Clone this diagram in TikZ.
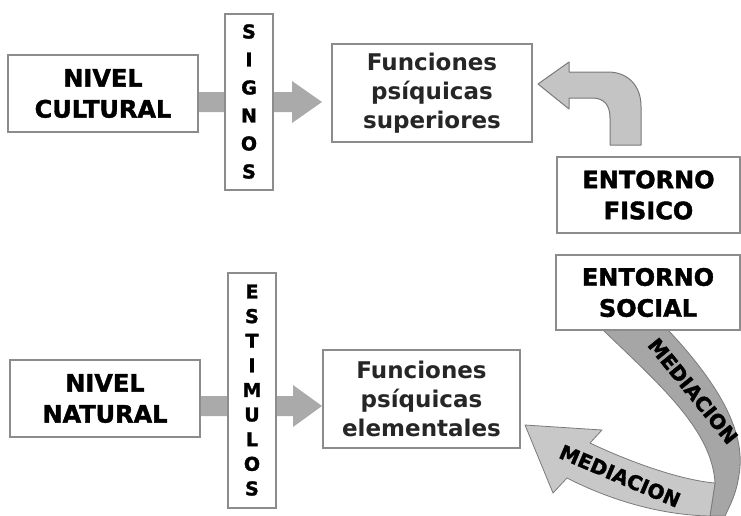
\documentclass[tikz,border=0pt]{standalone}
\usepackage{fontspec}
\setmainfont{DejaVu Sans}
\newfontfamily\heavyfont{DejaVu Sans}[UprightFont={* Bold},FakeBold=1.6]
\usetikzlibrary{calc}
\definecolor{boxline}{HTML}{8C8C8C}
\definecolor{shaft}{HTML}{AAAAAA}
\definecolor{curvefill}{HTML}{C4C4C4}
\definecolor{curveline}{HTML}{7A7A7A}
\definecolor{darkband}{HTML}{A6A6A6}
\definecolor{lightband}{HTML}{C8C8C8}
\definecolor{bandline}{HTML}{7A7A7A}
\definecolor{funtext}{HTML}{262626}
\begin{document}
\begin{tikzpicture}[x=1pt,y=-1pt,
  box/.style={draw=boxline,line width=1.6pt,fill=white,inner sep=0pt,align=center,font=\heavyfont\fontsize{24}{31}\selectfont},
  funbox/.style={box,font=\bfseries\fontsize{23}{29}\selectfont,text=funtext},
  vbox/.style={draw=boxline,line width=1.6pt,fill=white,inner sep=0pt},
  vletter/.style={font=\heavyfont\fontsize{19}{19}\selectfont,inner sep=0pt},
  blockarrow/.style={fill=shaft},
  bendarrow/.style={fill=curvefill,draw=curveline,line width=1pt,line join=round},
  darkstrip/.style={fill=darkband,draw=bandline,line width=0.8pt,line join=round},
  lightstrip/.style={fill=lightband,draw=bandline,line width=0.8pt,line join=round},
  bandtext/.style={font=\heavyfont\fontsize{20}{20}\selectfont,inner sep=0pt}]
\useasboundingbox (0,0) rectangle (741,515);

% straight block arrows (behind the vertical boxes)
\fill[blockarrow] (198,92) -- (292,92) -- (292,81) -- (322,102) -- (292,123) -- (292,112) -- (198,112) -- cycle;
\fill[blockarrow] (200,396) -- (293,396) -- (293,385) -- (322,406) -- (293,427) -- (293,416) -- (200,416) -- cycle;

% boxes
\node[box,minimum width=190pt,minimum height=77pt] (nc) at (103,93.5) {NIVEL\\CULTURAL};
\node[vbox,minimum width=48pt,minimum height=176pt] (signos) at (249,102) {};
\foreach \l [count=\i from 0] in {S,I,G,N,O,S}
  \node[vletter] (sg\i) at (249,{31.5+28*\i}) {\l};
\node[funbox,minimum width=200pt,minimum height=98pt] (fsup) at (432,93) {Funciones\\psíquicas\\superiores};
\node[box,minimum width=183pt,minimum height=76pt] (fis) at (648.5,195) {ENTORNO\\FISICO};

\node[box,minimum width=190pt,minimum height=77pt] (nn) at (105,398.5) {NIVEL\\NATURAL};
\node[vbox,minimum width=48pt,minimum height=235pt] (est) at (252,390.5) {};
\foreach \l [count=\i from 0] in {E,S,T,I,M,U,L,O,S}
  \node[vletter] (es\i) at (252,{291.5+24.625*\i}) {\l};
\node[funbox,minimum width=197pt,minimum height=98pt] (fel) at (421.5,399) {Funciones\\psíquicas\\elementales};

% bent arrow from ENTORNO FISICO to Funciones superiores
\filldraw[bendarrow] (610,145) -- (610,118) .. controls (610,105) and (604,98) .. (592,98)
  -- (569,98) -- (569,109) -- (538,84) -- (569,62) -- (569,72) -- (608,72)
  .. controls (628,72) and (641,86) .. (641,106) -- (641,145) -- cycle;

% MEDIACION ribbon
\filldraw[darkstrip] (603,330) -- (668,330) .. controls (715,380) and (747,430) .. (739,475)
  .. controls (736,495) and (730,505) .. (725,516) -- (710,516) -- (715,483)
  .. controls (712,430) and (660,385) .. (603,330) -- cycle;
\filldraw[lightstrip] (715,483) .. controls (680,480) and (630,462) .. (590,443)
  -- (602,430) -- (525,425) -- (553,493) -- (567,478)
  .. controls (610,500) and (660,515) .. (710,516) -- cycle;
\node[bandtext,rotate=-51] (med1) at (693,391) {MEDIACION};
\node[bandtext,rotate=-23] (med2) at (620,476) {MEDIACION};

\node[box,minimum width=184pt,minimum height=75pt] (soc) at (648,292.5) {ENTORNO\\SOCIAL};
\end{tikzpicture}
\end{document}
